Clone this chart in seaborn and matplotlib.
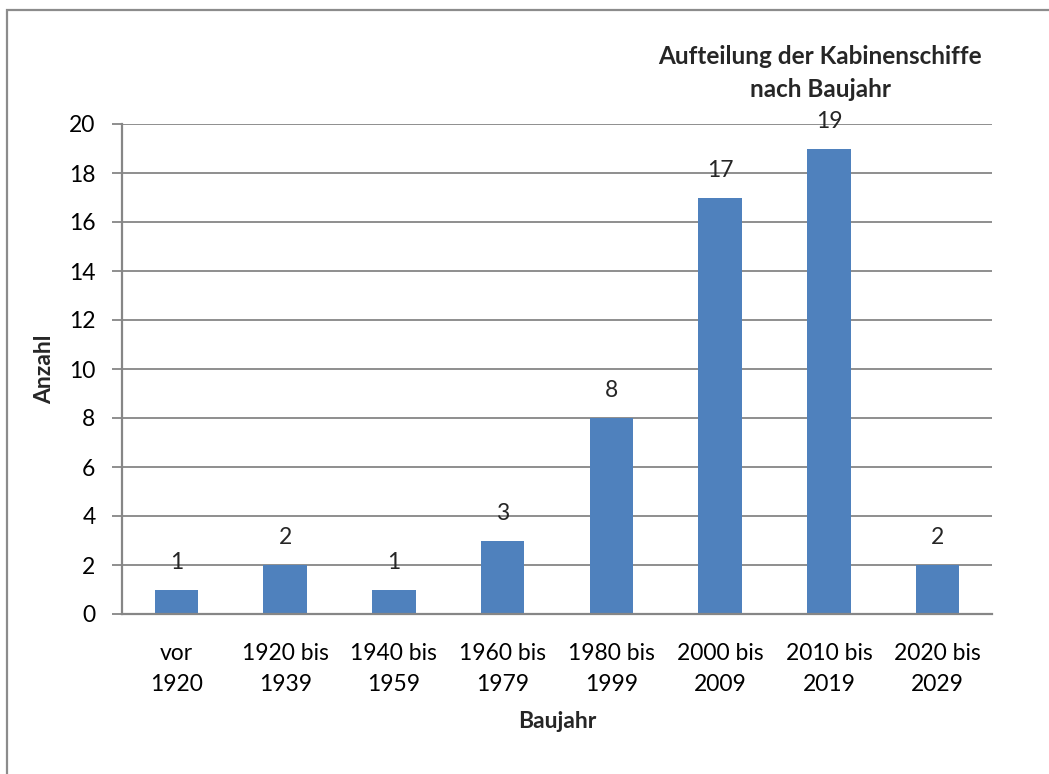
import matplotlib
matplotlib.use("Agg")
import matplotlib.pyplot as plt
import seaborn as sns
import pandas as pd
from matplotlib.patches import Rectangle

# Anzahl der Kabinenschiffe je Baujahr-Zeitraum
categories = ["vor\n1920", "1920 bis\n1939", "1940 bis\n1959", "1960 bis\n1979",
              "1980 bis\n1999", "2000 bis\n2009", "2010 bis\n2019", "2020 bis\n2029"]
counts = [1, 2, 1, 3, 8, 17, 19, 2]
y_ticks = [0, 2, 4, 6, 8, 10, 12, 14, 16, 18, 20]

sns.set_theme(style="white")
plt.rcParams["font.family"] = ["Lato", "DejaVu Sans"]

df = pd.DataFrame({"Baujahr": categories, "Anzahl": counts})

fig = plt.figure(figsize=(10.49, 7.74), dpi=100)
ax = fig.add_axes([122 / 1049, 1 - 614 / 774, (992 - 122) / 1049, (614 - 124) / 774])

grid_col = "#868686"
fs = 16.5
sns.barplot(data=df, x="Baujahr", y="Anzahl", color="#4F81BD", width=0.4,
            saturation=1, ax=ax, zorder=3, edgecolor="none", linewidth=0)

ax.set_xlim(-0.5, len(categories) - 0.5)
ax.set_ylim(0, 20)
ax.set_yticks(y_ticks)
ax.yaxis.grid(True, color=grid_col, linewidth=1.3, zorder=0)
ax.xaxis.grid(False)

for side in ["top", "right"]:
    ax.spines[side].set_visible(False)
for side in ["left", "bottom"]:
    ax.spines[side].set_color(grid_col)
    ax.spines[side].set_linewidth(1.6)
ax.spines["bottom"].set_zorder(4)

# Kategoriegrenzen als Teilstriche, Beschriftung mittig ohne Strich
ax.set_xticks([i - 0.5 for i in range(len(categories) + 1)], minor=True)
ax.tick_params(axis="x", which="minor", length=7, width=1.3, color=grid_col, direction="out")
ax.tick_params(axis="x", which="major", length=0, pad=21, labelsize=fs, colors="black")
ax.tick_params(axis="y", which="major", length=7, width=1.3, color=grid_col,
               direction="out", left=True, labelsize=fs, colors="black", pad=12)
ax.set_xticks(range(len(categories)))
ax.set_xticklabels(categories, linespacing=1.6)

# Werte über den Balken
for container in ax.containers:
    ax.bar_label(container, labels=[str(v) for v in counts], padding=12, fontsize=fs)

ax.set_xlabel("Baujahr", fontsize=fs, fontweight="bold", labelpad=11)
ax.set_ylabel("Anzahl", fontsize=fs, fontweight="bold", labelpad=10)

fig.text(820 / 1049, 1 - 73 / 774, "Aufteilung der Kabinenschiffe\nnach Baujahr",
         ha="center", va="center", fontsize=17.5, fontweight="bold", linespacing=1.5)

# Rahmen des Diagrammbereichs
fig.patches.append(Rectangle((6.5 / 1049, -0.05), 1.1, 1 - 9.5 / 774 + 0.05,
                             transform=fig.transFigure, fill=False,
                             edgecolor="#8C8C8C", linewidth=1.6))

fig.savefig("out.png", dpi=100)
